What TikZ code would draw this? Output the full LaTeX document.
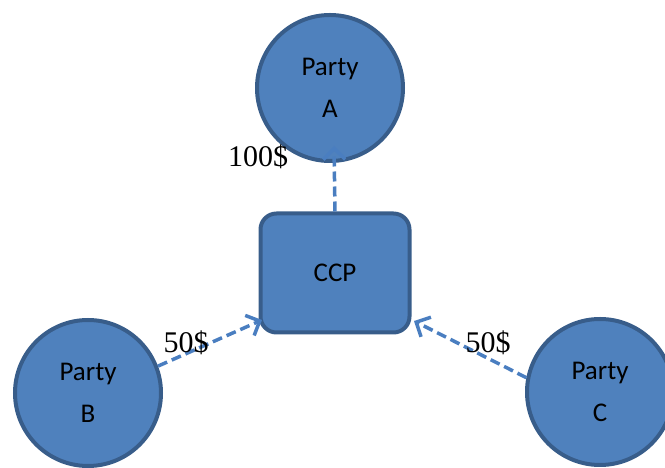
\documentclass[tikz,border=0pt]{standalone}
\usepackage{fontspec}
\setmainfont{Liberation Serif}
\newfontfamily\calfont{Carlito}
\usetikzlibrary{shapes, arrows.meta, positioning}
\definecolor{nodeblue}{HTML}{4F81BD}
\definecolor{edgeblue}{HTML}{385D8A}
\definecolor{arrowblue}{HTML}{4A7EC0}
\tikzstyle{party} = [draw=edgeblue, fill=nodeblue, circle, line width=4pt, minimum size=146pt, inner sep=0pt, align=center, font=\calfont\fontsize{27}{42}\selectfont]
\tikzstyle{ccpbox} = [draw=edgeblue, fill=nodeblue, rectangle, rounded corners=16pt, line width=4pt, minimum width=149pt, minimum height=119pt, font=\calfont\fontsize{27}{32}\selectfont]
\tikzstyle{pay} = [draw=arrowblue, line width=3.5pt, dash pattern=on 10pt off 5pt, -{Straight Barb[length=11pt, width=22pt, line width=3.5pt]}]
\tikzstyle{amount} = [font=\fontsize{30}{36}\selectfont]

\begin{document}
\begin{tikzpicture}[x=1pt, y=1pt]
  \useasboundingbox (0,0) rectangle (665,468);
  \node[party] (a) at (330,380) {Party\\A};
  \node[party] (b) at (88,75) {Party\\B};
  \node[party] (c) at (600,76) {Party\\C};
  \node[ccpbox] (ccp) at (335,195) {CCP};
  \coordinate (tipa) at (334,322);
  \coordinate (tipb) at (262,148);
  \coordinate (tipc) at (414,147);
  \draw[pay] (ccp.north) -- (tipa);
  \draw[pay] (b.21) -- (tipb);
  \draw[pay] (c.169) -- (tipc);
  \node[amount] (amta) at (258,311) {100\$};
  \node[amount] (amtb) at (186,125) {50\$};
  \node[amount] (amtc) at (488,125) {50\$};
\end{tikzpicture}
\end{document}
